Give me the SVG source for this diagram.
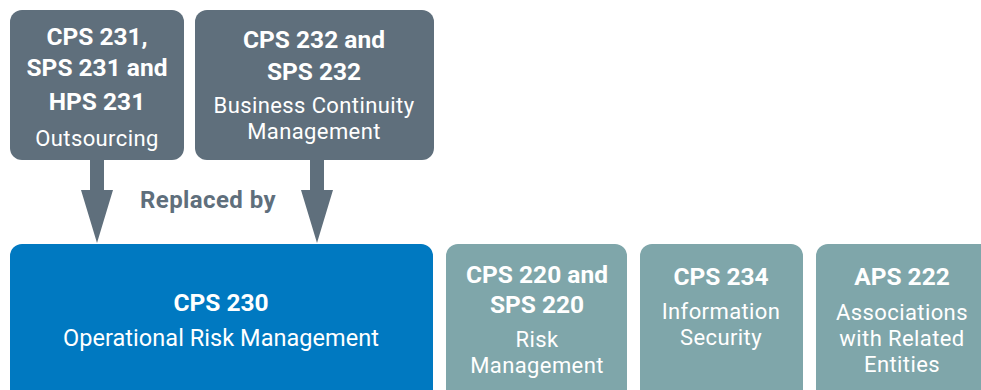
<svg xmlns="http://www.w3.org/2000/svg" width="981" height="390" viewBox="0 0 981 390">
<style>
.old{fill:#5f6f7c}
.new{fill:#0079c1}
.rel{fill:#7fa6aa}
text{font-family:Roboto,"Liberation Sans",sans-serif;fill:#fff;text-anchor:middle}
.b{font-weight:bold;font-size:24.5px}
.r{font-size:22px;letter-spacing:0.4px}
.big{font-size:23.5px;letter-spacing:0.05px}
.lbl{fill:#5f6f7c;font-weight:bold;font-size:24px;letter-spacing:0.4px}
</style>
<rect width="981" height="390" fill="#fff"/>
<g id="connectors" fill="#5f6f7c">
<path d="M90,160 H104 V190 H113 L97,243 L81,190 H90 Z"/>
<path d="M310,160 H324 V190 H333 L317,243 L301,190 H310 Z"/>
<text class="lbl" x="208" y="208">Replaced by</text>
</g>
<g id="cps231">
<rect class="old" x="10" y="10" width="174" height="150" rx="12"/>
<text class="b" x="97" y="45">CPS 231,</text>
<text class="b" x="97" y="76">SPS 231 and</text>
<text class="b" x="97" y="110">HPS 231</text>
<text class="r" x="97" y="146">Outsourcing</text>
</g>
<g id="cps232">
<rect class="old" x="195" y="10" width="239" height="150" rx="12"/>
<text class="b" x="314" y="48">CPS 232 and</text>
<text class="b" x="314" y="80">SPS 232</text>
<text class="r" x="314" y="113">Business Continuity</text>
<text class="r" x="314" y="139">Management</text>
</g>
<g id="cps230">
<rect class="new" x="10" y="244" width="423" height="160" rx="12"/>
<text class="b" x="221" y="311">CPS 230</text>
<text class="r big" x="221" y="346">Operational Risk Management</text>
</g>
<g id="cps220">
<rect class="rel" x="446" y="244" width="181" height="160" rx="12"/>
<text class="b" x="537" y="283">CPS 220 and</text>
<text class="b" x="537" y="313">SPS 220</text>
<text class="r" x="537" y="347">Risk</text>
<text class="r" x="537" y="373">Management</text>
</g>
<g id="cps234">
<rect class="rel" x="640" y="244" width="163" height="160" rx="12"/>
<text class="b" x="721" y="285">CPS 234</text>
<text class="r" x="721" y="319">Information</text>
<text class="r" x="721" y="345">Security</text>
</g>
<g id="aps222">
<rect class="rel" x="816" y="244" width="180" height="160" rx="12"/>
<text class="b" x="902" y="285">APS 222</text>
<text class="r" x="902" y="320">Associations</text>
<text class="r" x="902" y="346">with Related</text>
<text class="r" x="902" y="372">Entities</text>
</g>
</svg>
